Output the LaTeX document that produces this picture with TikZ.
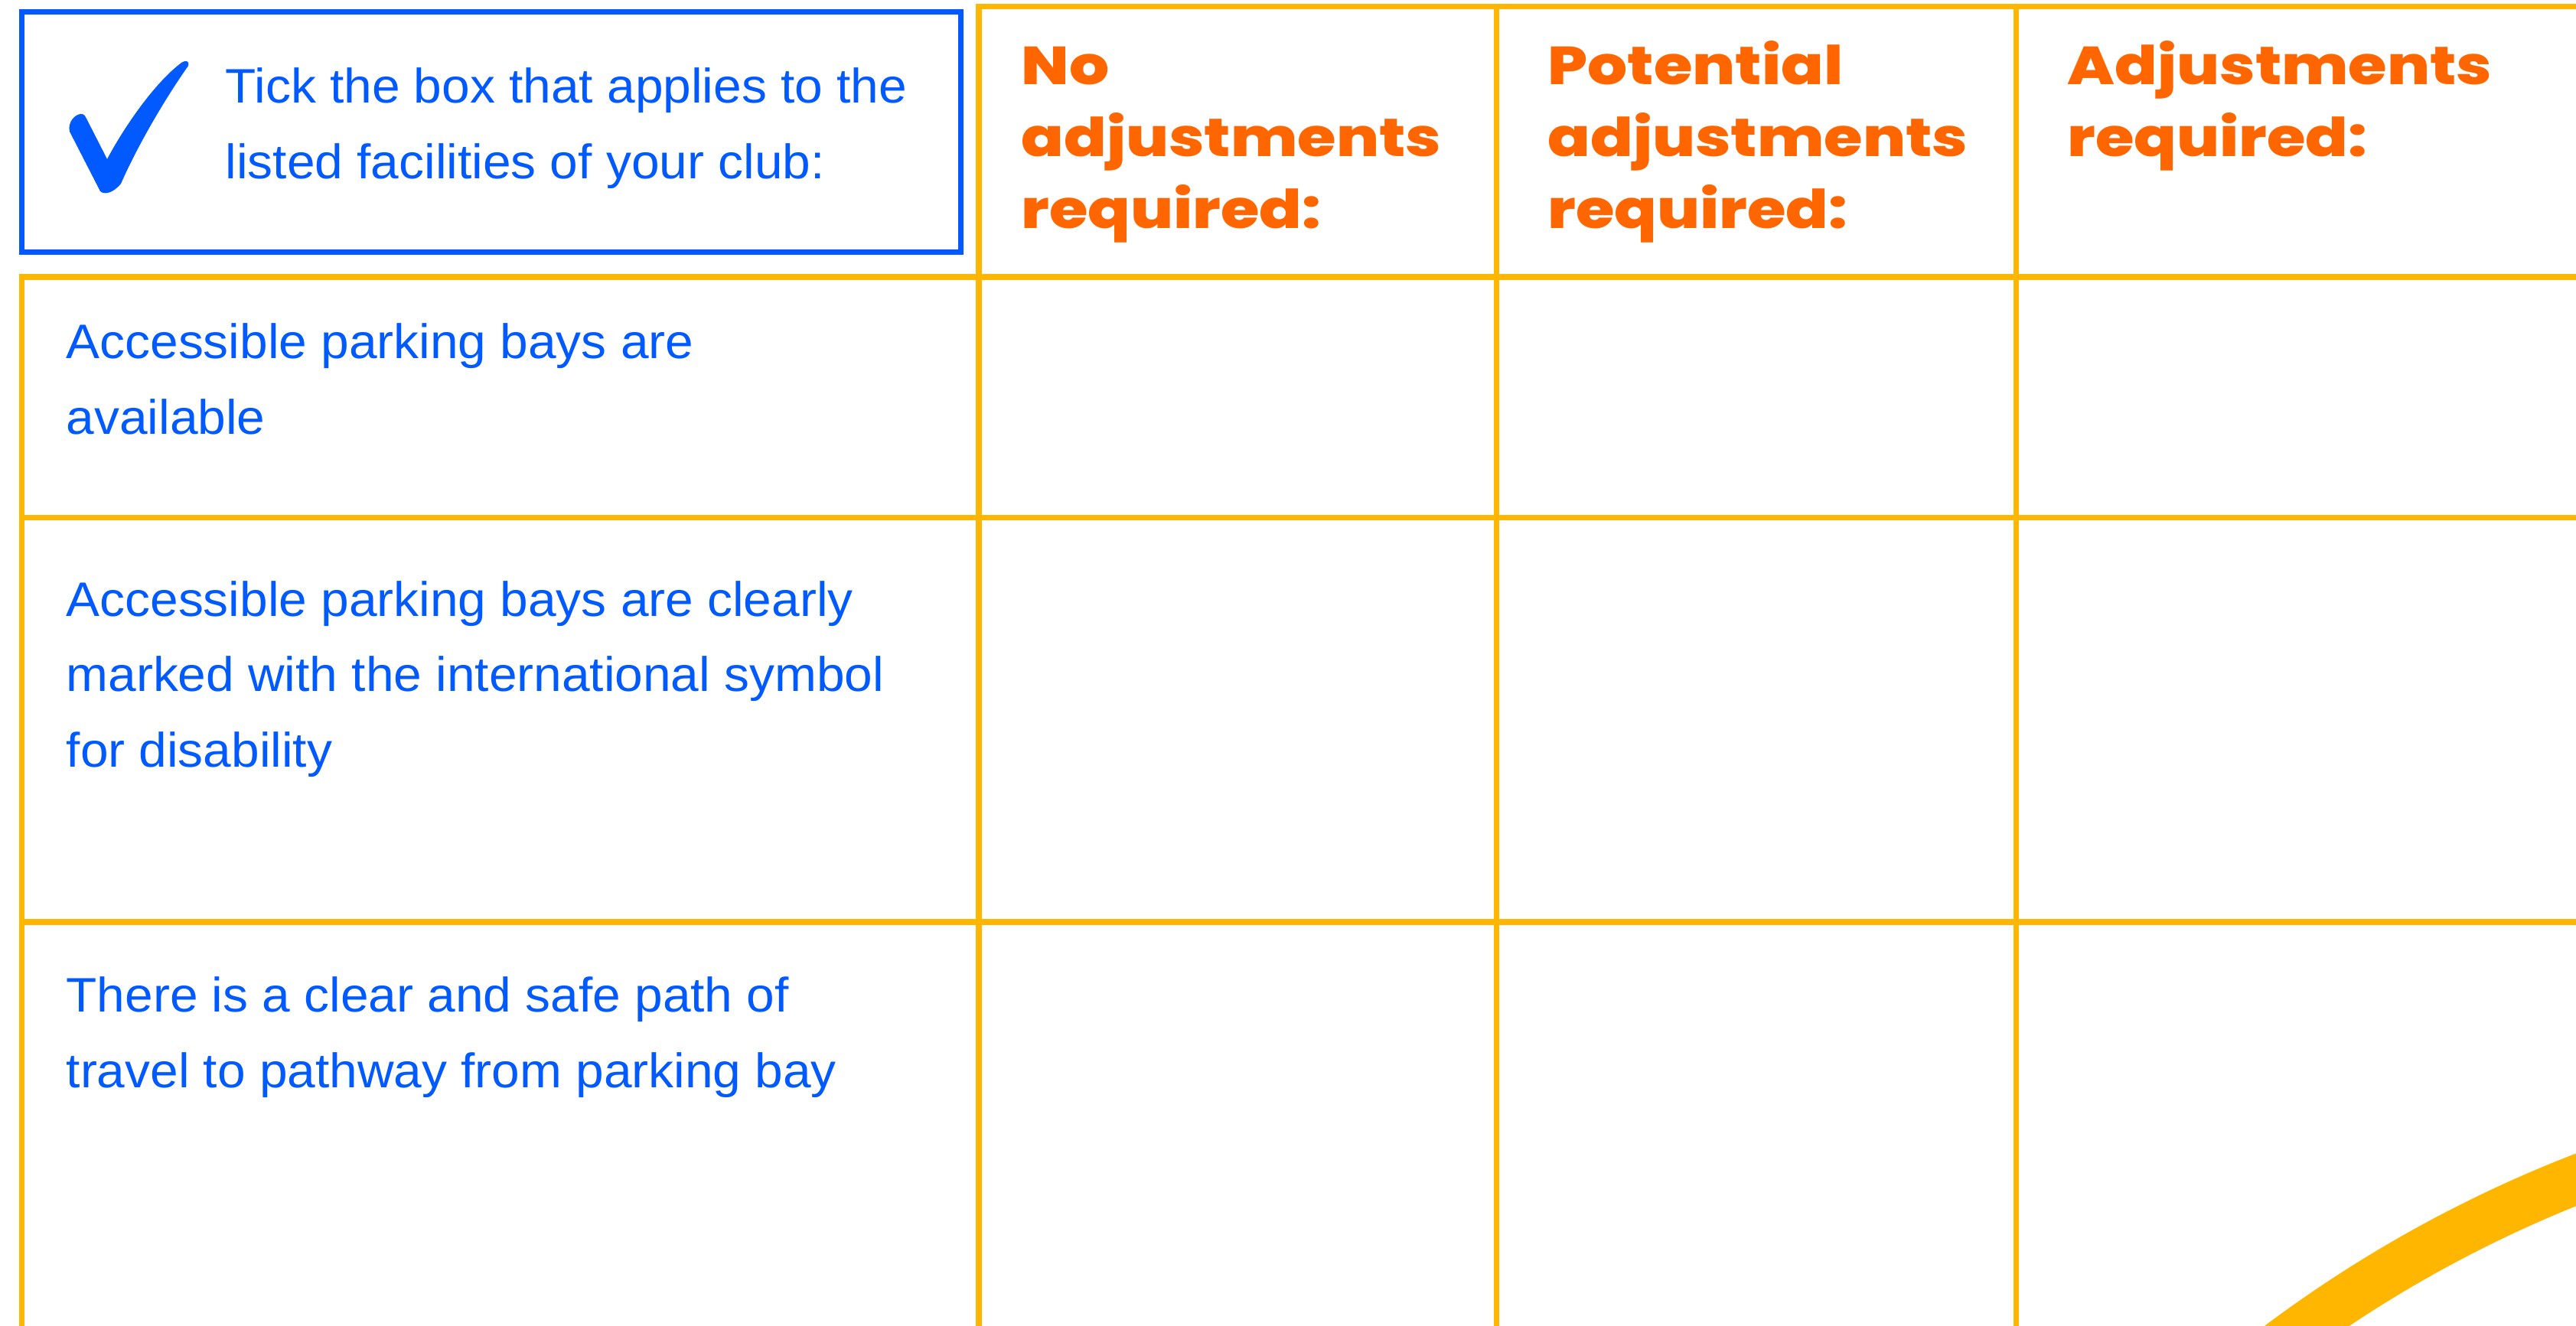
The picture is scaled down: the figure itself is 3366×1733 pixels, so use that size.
\documentclass[tikz,border=0pt]{standalone}
\usepackage{fontspec}
\setmainfont[FakeStretch=1.04]{Liberation Sans}
\newfontfamily\headfont[FakeStretch=1.17,BoldFont=* ExtraBold]{Poppins}
\usepackage{tikz}
\usetikzlibrary{positioning}
\definecolor{tickblue}{RGB}{0,90,255}
\definecolor{gridorange}{RGB}{255,182,0}
\definecolor{headorange}{RGB}{255,102,0}

\begin{document}
\begin{tikzpicture}[x=0.01cm,y=-0.01cm,
    gridline/.style={draw=gridorange,line width=2pt},
    tickframe/.style={draw=tickblue,line width=2pt},
    rowtext/.style={anchor=base west,inner sep=0pt,align=left,text=tickblue,
      font=\fontsize{18}{27.9}\selectfont},
    headtext/.style={anchor=base west,inner sep=0pt,align=left,text=headorange,
      font=\headfont\bfseries\fontsize{19.9}{26.6}\selectfont}]
  \useasboundingbox (0,0) rectangle (3366,1733);
  \clip (0,0) rectangle (3366,1733);
  % instruction box with tick
  \draw[tickframe] (28.5,15.5) rectangle (1255.5,329.5);
  \fill[tickblue] (91,172) .. controls (88,160) and (98,149) .. (106,149)
    .. controls (110,149) and (112,152) .. (113,155)
    -- (140,208) .. controls (160,170) and (200,110) .. (237,82)
    .. controls (243,78) and (248,80) .. (246,86)
    .. controls (215,130) and (180,190) .. (158,240)
    .. controls (150,250) and (138,256) .. (131,250) -- cycle;
  \node[rowtext] (tick) at (294,233) {Tick the box that applies to the\\listed facilities of your club:};
  % grid
  \draw[gridline] (1279,1733) -- (1279,8.5) -- (3366,8.5);
  \draw[gridline] (28.5,1733) -- (28.5,362) -- (3366,362);
  \foreach \y in {676.5,1205}
    \draw[gridline] (28.5,\y) -- (3366,\y);
  \foreach \x in {1955.5,2634}
    \draw[gridline] (\x,8.5) -- (\x,1733);
  % column heads (anchored on their last line)
  \node[headtext] (none) at (1334,298) {No\\adjustments\\required:};
  \node[headtext] (maybe) at (2022,298) {Potential\\adjustments\\required:};
  \node[headtext] (needed) at (2701,204) {Adjustments\\required:};
  % rows
  \node[rowtext] (bays) at (86,567) {Accessible parking bays are\\available};
  \node[rowtext] (marked) at (86,1002) {Accessible parking bays are clearly\\marked with the international symbol\\for disability};
  \node[rowtext] (path) at (86,1421) {There is a clear and safe path of\\travel to pathway from parking bay};
  % swoosh
  \draw[gridorange,line width=18.2pt] (3978,3095) circle [radius=16.68cm];
\end{tikzpicture}
\end{document}
